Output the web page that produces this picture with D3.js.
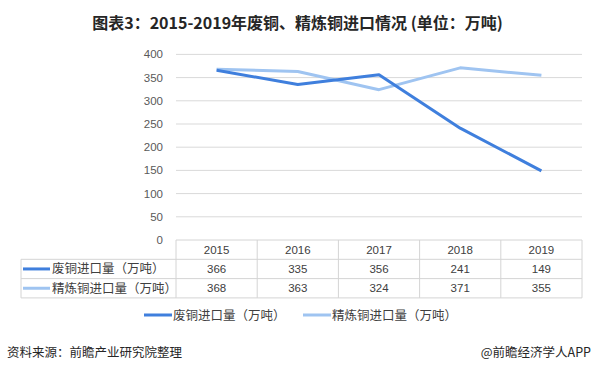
<!DOCTYPE html>
<html>
<head>
<meta charset="utf-8">
<style>
  body { margin: 0; background: #fff; font-family: "Noto Sans CJK SC", "Liberation Sans", sans-serif; }
  svg text { fill: #404040; }
</style>
</head>
<body>
<script src="https://cdn.jsdelivr.net/npm/d3@7"></script>
<script>
// data
var years = ["2015", "2016", "2017", "2018", "2019"];
var scrapImport = [366, 335, 356, 241, 149];
var refinedImport = [368, 363, 324, 371, 355];
var seriesNames = ["废铜进口量（万吨）", "精炼铜进口量（万吨）"];
var yTicks = [0, 50, 100, 150, 200, 250, 300, 350, 400];

var colors = ["#3f7fdd", "#9fc4f1"];
var series = [scrapImport, refinedImport];

var W = 595, H = 373;
var plot = {left: 176, right: 582, top: 54.4, bottom: 240};
var tableLeft = 21, rowH = 19.3;

var svg = d3.select("body").append("svg")
    .attr("width", W).attr("height", H);

// title
svg.append("text")
    .attr("x", W / 2).attr("y", 29)
    .attr("text-anchor", "middle")
    .style("font-size", "16px").style("font-weight", "bold")
    .style("fill", "#262626")
    .text("图表3：2015-2019年废铜、精炼铜进口情况 (单位：万吨)");

var x = d3.scaleBand().domain(years).range([plot.left, plot.right]);
var y = d3.scaleLinear().domain([0, 400]).range([plot.bottom, plot.top]);

// grid
svg.append("g").selectAll("line")
    .data(yTicks.slice(1))
    .enter().append("line")
    .attr("x1", plot.left).attr("x2", plot.right)
    .attr("y1", d => y(d)).attr("y2", d => y(d))
    .attr("stroke", "#d9d9d9").attr("stroke-width", 1);

// y axis labels
svg.append("g").selectAll("text")
    .data(yTicks)
    .enter().append("text")
    .attr("x", 163).attr("y", d => y(d) + 4)
    .attr("text-anchor", "end")
    .style("font-size", "11.5px").style("fill", "#595959")
    .style("font-family", "'Liberation Sans', sans-serif")
    .text(d => d);

// lines
var line = d3.line()
    .x((d, i) => x(years[i]) + x.bandwidth() / 2)
    .y(d => y(d));

// draw light one first so dark crosses on top as in reference
[1, 0].forEach(function(k) {
    svg.append("path")
        .datum(series[k])
        .attr("d", line)
        .attr("fill", "none")
        .attr("stroke", colors[k])
        .attr("stroke-width", 3)
        .attr("stroke-linejoin", "round");
});

// data table
var tbl = svg.append("g");
var borderColor = "#d4d4d4";
var rowsY = [plot.bottom, plot.bottom + rowH, plot.bottom + 2 * rowH, plot.bottom + 3 * rowH];

// horizontal lines
tbl.append("line")
    .attr("x1", plot.left).attr("x2", plot.right)
    .attr("y1", rowsY[0]).attr("y2", rowsY[0])
    .attr("stroke", borderColor);
[1, 2, 3].forEach(function(r) {
    tbl.append("line")
        .attr("x1", tableLeft).attr("x2", plot.right)
        .attr("y1", rowsY[r]).attr("y2", rowsY[r])
        .attr("stroke", borderColor);
});
// vertical lines
tbl.append("line")
    .attr("x1", tableLeft).attr("x2", tableLeft)
    .attr("y1", rowsY[1]).attr("y2", rowsY[3])
    .attr("stroke", borderColor);
var vx = years.map(d => x(d)).concat([plot.right]);
tbl.selectAll(".v").data(vx).enter().append("line")
    .attr("x1", d => d).attr("x2", d => d)
    .attr("y1", rowsY[0]).attr("y2", rowsY[3])
    .attr("stroke", borderColor);

// header
tbl.selectAll(".yr").data(years).enter().append("text")
    .attr("x", d => x(d) + x.bandwidth() / 2)
    .attr("y", rowsY[0] + rowH / 2 + 4)
    .attr("text-anchor", "middle")
    .style("font-size", "11.5px")
    .style("font-family", "'Liberation Sans', sans-serif")
    .text(d => d);

series.forEach(function(vals, k) {
    var cy = rowsY[k + 1] + rowH / 2;
    tbl.append("line")
        .attr("x1", tableLeft + 2).attr("x2", 50)
        .attr("y1", cy).attr("y2", cy)
        .attr("stroke", colors[k]).attr("stroke-width", 3);
    tbl.append("text")
        .attr("x", 52).attr("y", cy + 4.5)
        .style("font-size", "12.5px")
        .text(seriesNames[k]);
    tbl.selectAll(".v" + k).data(vals).enter().append("text")
        .attr("x", (d, i) => x(years[i]) + x.bandwidth() / 2)
        .attr("y", cy + 4)
        .attr("text-anchor", "middle")
        .style("font-size", "11.5px")
        .style("font-family", "'Liberation Sans', sans-serif")
        .text(d => d);
});

// legend
var legendX = [144, 303];
seriesNames.forEach(function(name, k) {
    var ly = 315;
    svg.append("line")
        .attr("x1", legendX[k]).attr("x2", legendX[k] + 28)
        .attr("y1", ly).attr("y2", ly)
        .attr("stroke", colors[k]).attr("stroke-width", 3);
    svg.append("text")
        .attr("x", legendX[k] + 29).attr("y", ly + 4.5)
        .style("font-size", "12.5px")
        .text(name);
});

// footer
svg.append("text")
    .attr("x", 7).attr("y", 357)
    .style("font-size", "12.5px").style("fill", "#262626")
    .text("资料来源：前瞻产业研究院整理");
svg.append("text")
    .attr("x", 591).attr("y", 357)
    .attr("text-anchor", "end")
    .style("font-size", "12.5px").style("fill", "#262626")
    .text("@前瞻经济学人APP");
</script>
</body>
</html>
